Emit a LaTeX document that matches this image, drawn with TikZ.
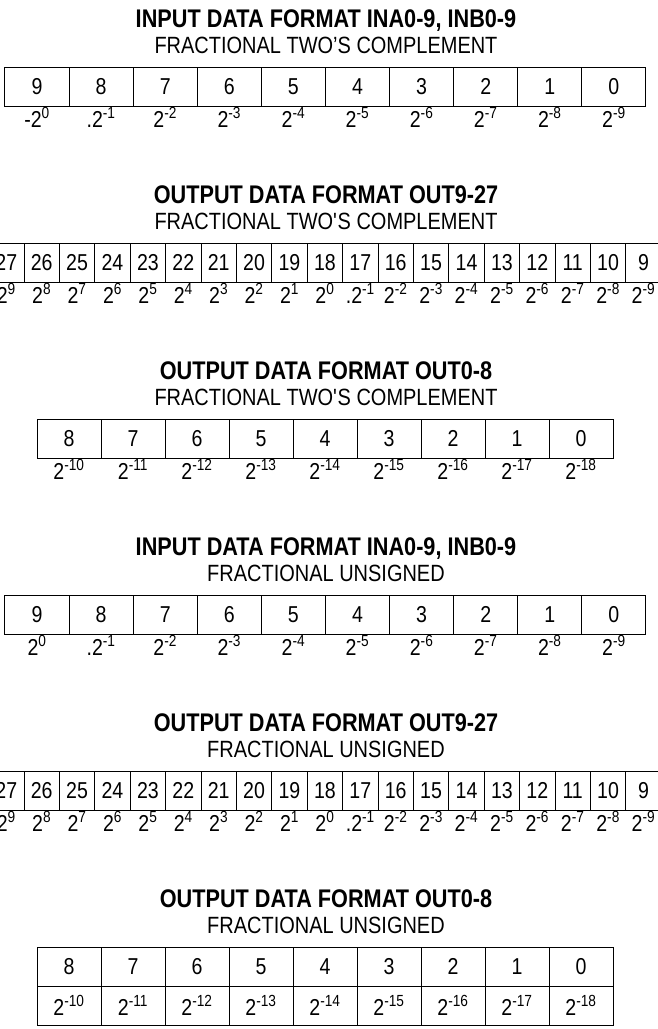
\documentclass[tikz,border=0pt]{standalone}
\usepackage{fontspec}
\setmainfont{Liberation Sans}[FakeStretch=0.85]
\usetikzlibrary{positioning}

\newcommand{\twopow}[1]{2\textsuperscript{#1}}
\newcommand{\hdfont}{\fontsize{25.5}{27}\selectfont}
\newcommand{\subfont}{\fontsize{23.5}{26}\selectfont}
\newcommand{\bitfont}{\fontsize{23}{25}\selectfont}

\tikzset{
  head/.style={font=\hdfont\bfseries, anchor=base, inner sep=0pt},
  subhead/.style={font=\subfont, anchor=base, inner sep=0pt},
  cellbox/.style={draw, line width=1pt, inner sep=0pt, outer sep=0pt,
    minimum height=39pt, font=\bitfont},
  bitcell/.style={cellbox, text height=16.5pt, text depth=0pt},
  weight/.style={inner sep=0pt, font=\bitfont},
}

\begin{document}
\begin{tikzpicture}[x=1pt, y=-1pt]
  \useasboundingbox (0,0) rectangle (658,1029);

  % input, two's complement
  \node[head] (h1) at (326,27.5) {INPUT DATA FORMAT INA0-9, INB0-9};
  \node[subhead] (s1) at (326,53.5) {FRACTIONAL TWO’S COMPLEMENT};
  \foreach \b [count=\i from 0] in {9,...,0}{
    \pgfmathtruncatemacro\expo{\b-9}
    \node[bitcell, minimum width=64.1pt] (ia\b) at (37+64.1*\i,86.5) {\b};
    \node[weight, below=1pt of ia\b] (wa\b) {\ifnum\b=9 -\fi\ifnum\b=8 .\fi\twopow{\expo}};
  }

  % output 9-27, two's complement
  \node[head] (h2) at (326,203.5) {OUTPUT DATA FORMAT OUT9-27};
  \node[subhead] (s2) at (326,229.5) {FRACTIONAL TWO\textquotesingle S COMPLEMENT};
  \foreach \b [count=\i from 0] in {27,...,9}{
    \pgfmathtruncatemacro\expo{\b-18}
    \node[bitcell, minimum width=35.4pt] (ob\b) at (6.3+35.4*\i,262.5) {\b};
    \node[weight, below=1pt of ob\b] (wb\b) {\ifnum\b=17 .\fi\twopow{\expo}};
  }

  % output 0-8, two's complement
  \node[head] (h3) at (326,379.5) {OUTPUT DATA FORMAT OUT0-8};
  \node[subhead] (s3) at (326,405.5) {FRACTIONAL TWO\textquotesingle S COMPLEMENT};
  \foreach \b [count=\i from 0] in {8,...,0}{
    \pgfmathtruncatemacro\expo{\b-18}
    \node[bitcell, minimum width=64pt] (oc\b) at (69+64*\i,438.5) {\b};
    \node[weight, below=1pt of oc\b] (wc\b) {\twopow{\expo}};
  }

  % input, unsigned
  \node[head] (h4) at (326,555.5) {INPUT DATA FORMAT INA0-9, INB0-9};
  \node[subhead] (s4) at (326,581.5) {FRACTIONAL UNSIGNED};
  \foreach \b [count=\i from 0] in {9,...,0}{
    \pgfmathtruncatemacro\expo{\b-9}
    \node[bitcell, minimum width=64.1pt] (iu\b) at (37+64.1*\i,614.5) {\b};
    \node[weight, below=1pt of iu\b] (wu\b) {\ifnum\b=8 .\fi\twopow{\expo}};
  }

  % output 9-27, unsigned
  \node[head] (h5) at (326,731.5) {OUTPUT DATA FORMAT OUT9-27};
  \node[subhead] (s5) at (326,757.5) {FRACTIONAL UNSIGNED};
  \foreach \b [count=\i from 0] in {27,...,9}{
    \pgfmathtruncatemacro\expo{\b-18}
    \node[bitcell, minimum width=35.4pt] (obu\b) at (6.3+35.4*\i,790.5) {\b};
    \node[weight, below=1pt of obu\b] (wbu\b) {\ifnum\b=17 .\fi\twopow{\expo}};
  }

  % output 0-8, unsigned
  \node[head] (h6) at (326,907.5) {OUTPUT DATA FORMAT OUT0-8};
  \node[subhead] (s6) at (326,933.5) {FRACTIONAL UNSIGNED};
  \foreach \b [count=\i from 0] in {8,...,0}{
    \pgfmathtruncatemacro\expo{\b-18}
    \node[bitcell, minimum width=64pt] (ocu\b) at (69+64*\i,966.5) {\b};
    \node[cellbox, minimum width=64pt, below=0pt of ocu\b] (wcu\b) {\twopow{\expo}};
  }
\end{tikzpicture}
\end{document}
